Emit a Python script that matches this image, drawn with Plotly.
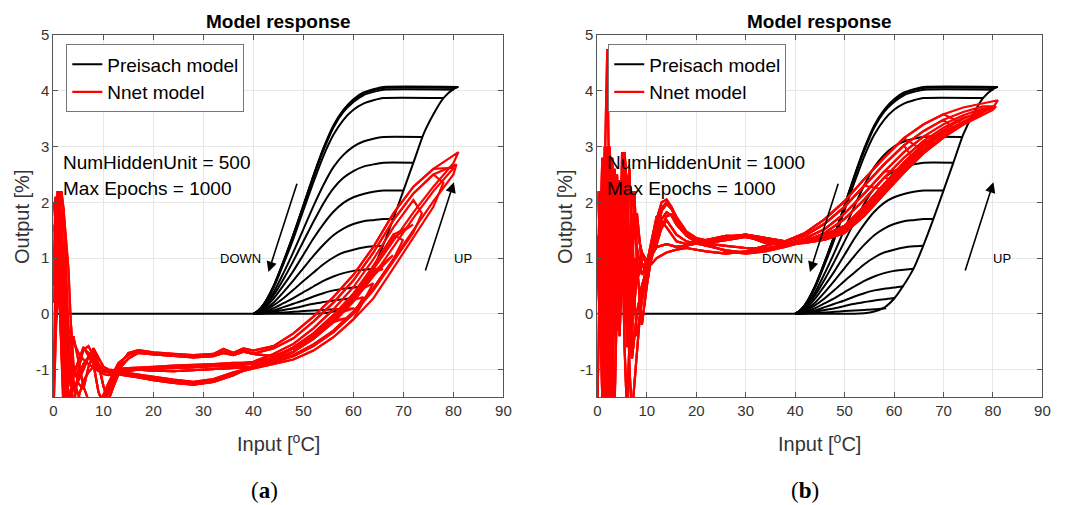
import plotly.graph_objects as go

# ---------------- Preisach model (identical in both panels) ----------------
PREISACH_ASC_X = [0, 52, 54, 56, 58, 60, 62, 64, 66, 68, 70, 72, 74, 76, 78, 80, 81]
PREISACH_ASC_Y = [0, 0, 0.01, 0.04, 0.11, 0.27, 0.52, 0.82, 1.24, 1.71, 2.21, 2.71, 3.22, 3.58, 3.87, 4.03, 4.07]

PREISACH_DESC_X = [40, 41, 42, 44, 46, 48, 50, 52, 54, 56, 58, 60, 62, 64, 66]
PREISACH_TURN_X = [81, 80.6, 80.1, 78, 73.7, 71.9, 69.9, 67.9, 65.9, 64, 62, 60.2, 58.4]
PREISACH_TURN_Y = [4.07, 4.05, 4.02, 3.87, 3.17, 2.71, 2.21, 1.70, 1.22, 0.81, 0.50, 0.29, 0.10]
PREISACH_DESC_Y = [
    [0, 0.06, 0.16, 0.49, 0.94, 1.42, 1.95, 2.48, 2.97, 3.38, 3.66, 3.85, 3.97, 4.03, 4.07],
    [0, 0.06, 0.16, 0.49, 0.93, 1.42, 1.94, 2.47, 2.96, 3.36, 3.65, 3.83, 3.95, 4.01, 4.05],
    [0, 0.06, 0.16, 0.48, 0.92, 1.41, 1.93, 2.45, 2.93, 3.34, 3.62, 3.80, 3.92, 3.98, 4.02],
    [0, 0.06, 0.15, 0.46, 0.89, 1.35, 1.86, 2.36, 2.83, 3.21, 3.48, 3.66, 3.77, 3.83, 3.87],
    [0, 0.05, 0.13, 0.38, 0.73, 1.11, 1.52, 1.93, 2.31, 2.63, 2.85, 3.00, 3.09, 3.14, 3.17],
    [0, 0.04, 0.11, 0.33, 0.62, 0.95, 1.30, 1.65, 1.98, 2.25, 2.44, 2.56, 2.64, 2.68, 2.71],
    [0, 0.03, 0.09, 0.27, 0.51, 0.77, 1.06, 1.35, 1.61, 1.83, 1.99, 2.09, 2.15, 2.19, 2.21],
    [0, 0.03, 0.07, 0.20, 0.39, 0.60, 0.82, 1.04, 1.24, 1.41, 1.53, 1.61, 1.66, 1.68, 1.70],
    [0, 0.02, 0.05, 0.15, 0.28, 0.43, 0.59, 0.74, 0.89, 1.01, 1.10, 1.15, 1.19, 1.21],
    [0, 0.01, 0.03, 0.10, 0.19, 0.28, 0.39, 0.49, 0.59, 0.67, 0.73, 0.77, 0.79],
    [0, 0.01, 0.02, 0.06, 0.12, 0.18, 0.24, 0.31, 0.37, 0.42, 0.45, 0.47],
    [0, 0.004, 0.01, 0.035, 0.07, 0.10, 0.14, 0.18, 0.21, 0.24, 0.26],
    [0, 0.002, 0.004, 0.012, 0.023, 0.035, 0.05, 0.06, 0.07, 0.08],
]

# ---------------- Nnet model, panel (a): NumHiddenUnit = 500 ----------------
RED_A_UP_X = [0, 0.4, 0.8, 1.2, 1.6, 2.0, 2.5, 3.0, 3.5, 4, 5, 6, 7, 8, 9, 10, 11, 12,
              14, 17, 20, 24, 28, 32, 36, 40, 44, 48, 52, 56, 60, 64, 68, 72, 76, 80]
RED_A_UP_Y = [
    [-2.0, 1.0, 2.2, 1.7, 0.5, -0.6, -1.4, -1.9, -2.0, -1.8, -1.5, -1.2, -1.05, -0.95, -0.98, -1.02, -1.05, -1.06,
     -1.08, -1.12, -1.16, -1.21, -1.25, -1.2, -1.08,
     -0.95, -0.86, -0.74, -0.55, -0.3, 0.04, 0.46, 0.98, 1.5, 2.02, 2.5],
    [0.2, 0.8, 1.7, 2.15, 1.5, 0.3, -0.7, -1.5, -1.9, -1.7, -1.0, -0.62, -0.7, -0.85, -0.98, -1.03, -1.05, -1.06,
     -1.1, -1.14, -1.19, -1.24, -1.27, -1.22, -1.1,
     -0.93, -0.82, -0.68, -0.45, -0.15, 0.22, 0.68, 1.2, 1.72, 2.2, 2.62],
    [-1.8, -0.5, 0.6, 1.6, 2.2, 1.9, 0.8, -0.3, -0.35, -0.5, -0.7, -0.82, -0.9, -0.97, -1.03, -1.04, -1.04, -1.02,
     -1.0, -0.99, -0.98, -0.97, -0.96, -0.95, -0.93,
     -0.9, -0.8, -0.62, -0.38, -0.06, 0.32, 0.8, 1.32, 1.82, 2.28, 2.7],
    [1.9, 2.05, 1.2, 0.2, -0.8, -1.5, -1.9, -1.8, -1.4, -1.1, -0.85, -0.65, -0.58, -0.75, -0.95, -1.08, -1.1, -1.08,
     -1.07, -1.1, -1.14, -1.19, -1.23, -1.19, -1.07,
     -0.98, -0.9, -0.82, -0.66, -0.42, -0.1, 0.28, 0.82, 1.38, 1.92, 2.4],
    [0.8, 2.1, 1.9, 2.2, 1.0, -1.0, -1.7, -0.9, -0.2, -0.9, -1.25, -1.35, -0.95, -0.72, -0.9, -1.0, -1.03, -1.04,
     -1.05, -1.09, -1.13, -1.18, -1.22, -1.17, -1.05,
     -0.96, -0.87, -0.76, -0.58, -0.33, 0.0, 0.42, 0.94, 1.46, 1.98, 2.47],
    [-1.2, 0.3, 2.1, 0.6, 1.8, 0.9, -1.0, -1.3, -0.8, -1.0, -1.2, -1.0, -0.78, -0.62, -0.8, -0.95, -1.0, -1.01,
     -0.98, -0.97, -0.95, -0.93, -0.92, -0.9, -0.88,
     -0.88, -0.78, -0.6, -0.35, -0.02, 0.36, 0.84, 1.36, 1.86, 2.32, 2.74],
]
RED_A_DN_X = [80, 76, 72, 68, 64, 60, 56, 52, 48, 44, 40, 38, 36, 34, 32, 28, 24, 20, 17, 15, 13,
              12, 11, 10, 9, 8, 6, 4, 3, 2, 1, 0]
RED_A_DN_Y = [
    [2.8, 2.6, 2.28, 1.8, 1.2, 0.7, 0.3, -0.05, -0.35, -0.58, -0.66, -0.62, -0.7, -0.63, -0.72, -0.74, -0.72,
     -0.69, -0.65, -0.7, -0.95, -1.15, -1.35, -1.55, -1.8, -2.0, -1.7, -1.2, 0.8, 1.9, 0.4, -0.8],
    [2.74, 2.5, 2.16, 1.68, 1.1, 0.6, 0.2, -0.14, -0.44, -0.62, -0.71, -0.66, -0.72, -0.68, -0.75, -0.77, -0.75,
     -0.72, -0.68, -0.74, -0.88, -1.05, -1.25, -1.45, -1.65, -1.9, -2.2, -1.6, -0.9, 0.2, 2.1, 1.0],
    [2.68, 2.4, 2.04, 1.55, 0.98, 0.48, 0.08, -0.26, -0.54, -0.72, -0.86, -0.88, -0.9, -0.92, -0.93, -0.96, -0.97,
     -0.98, -0.99, -1.0, -1.02, -1.1, -1.25, -1.45, -1.6, -1.8, -1.3, -0.4, -1.2, -1.7, 0.8, 1.6],
    [2.62, 2.3, 1.92, 1.42, 0.86, 0.36, -0.04, -0.36, -0.62, -0.76, -0.72, -0.68, -0.74, -0.7, -0.76, -0.78, -0.76,
     -0.73, -0.7, -0.8, -1.0, -1.2, -1.42, -1.62, -1.4, -0.9, -0.6, -1.1, -1.6, -0.5, 1.2, 2.0],
    [2.56, 2.2, 1.8, 1.3, 0.75, 0.25, -0.12, -0.42, -0.68, -0.85, -0.95, -0.96, -0.97, -0.98, -1.0, -1.02, -1.03,
     -1.02, -1.0, -1.02, -1.08, -1.3, -1.55, -1.3, -0.9, -0.65, -0.9, -1.4, -0.6, 0.9, 2.2, 0.5],
]
RED_A_TURN_X = [81, 80.6, 80.1, 78, 73.7, 71.9, 69.9, 67.9, 65.9, 64, 62, 60.2, 58.4]
RED_A_TURN_Y = [2.9, 2.68, 2.62, 2.35, 1.8, 1.6, 1.32, 1.05, 0.8, 0.55, 0.3, 0.1, -0.08]
RED_A_CYCLE_UP = [2, 0, 1, 3, 4, 5, 0, 1, 2, 3, 4, 5, 1]
RED_A_CYCLE_DN = [0, 1, 0, 1, 2, 3, 3, 4, 4, 3, 4, 2, 4]

# ---------------- Nnet model, panel (b): NumHiddenUnit = 1000 ----------------
RED_B_UP_X = [0, 0.5, 1, 1.5, 2, 2.5, 3, 3.5, 4, 4.5, 5, 5.5, 6, 6.5, 7, 7.5, 8,
              9, 10, 11, 12, 13, 14, 15, 16, 18, 20, 23, 26, 30, 34, 38,
              42, 46, 50, 54, 58, 62, 66, 70, 74, 78, 80]
RED_B_UP_Y = [
    [1.3, -0.5, 1.5, 2.6, 4.75, 1.0, -1.8, 0.5, 2.0, 1.0, 2.9, 1.2, -0.6, 0.8, 1.8, 0.3, -0.4,
     0.2, 0.75, 1.25, 1.7, 2.0, 2.05, 1.92, 1.72, 1.45, 1.32, 1.22, 1.12, 1.08, 1.12, 1.2,
     1.3, 1.38, 1.52, 1.85, 2.25, 2.63, 2.97, 3.24, 3.45, 3.62, 3.7],
    [0.5, 2.2, 1.0, -1.6, 0.5, 3.0, 1.5, -0.3, 1.2, 2.2, 0.4, 2.7, 2.4, 0.2, -0.5, 1.0, 0.6,
     0.9, 0.85, 1.1, 1.45, 1.85, 1.97, 1.88, 1.7, 1.46, 1.33, 1.28, 1.32, 1.38, 1.3, 1.24,
     1.27, 1.33, 1.45, 1.76, 2.15, 2.53, 2.88, 3.16, 3.39, 3.58, 3.66],
    [-1.8, 1.0, 2.8, 1.5, -0.2, 1.8, 2.3, 0.8, -0.2, 1.5, 2.0, -0.2, 1.8, 2.6, 1.0, 0.2, 0.7,
     1.1, 0.95, 1.15, 1.35, 1.7, 1.82, 1.76, 1.6, 1.4, 1.28, 1.33, 1.4, 1.4, 1.27, 1.22,
     1.32, 1.42, 1.58, 1.93, 2.33, 2.72, 3.05, 3.3, 3.5, 3.65, 3.72],
    [1.0, 0.2, -1.5, 0.6, 2.6, 1.2, -0.8, -1.6, 0.4, 2.4, 1.6, -0.6, -1.8, -0.4, 1.2, 2.2, 0.9,
     -0.2, 0.5, 1.05, 1.25, 1.55, 1.75, 1.78, 1.65, 1.42, 1.3, 1.25, 1.22, 1.18, 1.18, 1.22,
     1.29, 1.36, 1.5, 1.82, 2.2, 2.58, 2.92, 3.2, 3.42, 3.6, 3.68],
    [2.2, 1.4, 0.3, 1.9, 3.0, 2.2, 0.6, 1.6, 2.5, 0.9, 1.4, 2.6, 1.0, 0.1, 0.9, 1.6, 1.2,
     0.7, 0.9, 1.2, 1.55, 1.9, 2.0, 1.9, 1.74, 1.48, 1.36, 1.3, 1.36, 1.42, 1.34, 1.26,
     1.3, 1.4, 1.56, 1.9, 2.3, 2.68, 3.01, 3.27, 3.47, 3.63, 3.71],
]
RED_B_DN_X = [80, 78, 74, 70, 66, 62, 58, 54, 50, 46, 42,
              38, 34, 30, 26, 22, 18, 16, 14, 12, 11, 10, 9, 8, 7,
              6.5, 6, 5.5, 5, 4.5, 4, 3.5, 3, 2.5, 2, 1.5, 1, 0.5, 0]
RED_B_DN_Y = [
    [3.82, 3.78, 3.7, 3.58, 3.4, 3.15, 2.8, 2.42, 2.02, 1.7, 1.45,
     1.3, 1.22, 1.12, 1.08, 1.12, 1.18, 1.15, 1.1, 1.0, 0.9, 0.85, 1.1, 1.5, 2.2,
     1.2, 0.0, 1.0, 2.4, 1.6, 0.2, 1.4, 2.2, 0.0, -1.6, 0.8, 2.0, 0.6, 1.2],
    [3.76, 3.72, 3.62, 3.48, 3.28, 3.02, 2.68, 2.3, 1.92, 1.62, 1.4,
     1.3, 1.36, 1.42, 1.38, 1.3, 1.22, 1.2, 1.25, 1.2, 1.05, 0.8, 0.5, 0.0, -0.8,
     0.5, 2.2, 2.9, 1.8, 0.5, -0.3, 0.9, 2.8, 1.5, 0.3, -1.2, 0.4, 1.6, 1.0],
    [3.72, 3.68, 3.56, 3.4, 3.18, 2.9, 2.55, 2.16, 1.8, 1.52, 1.35,
     1.25, 1.3, 1.38, 1.4, 1.32, 1.25, 1.3, 1.55, 1.75, 1.35, 0.9, 0.4, -0.6, -1.8,
     -1.0, 1.0, 2.6, 2.0, 0.6, 1.8, 2.5, 0.0, -1.8, 0.8, 3.0, 1.2, 0.0, 0.8],
    [3.7, 3.65, 3.52, 3.34, 3.1, 2.8, 2.44, 2.05, 1.7, 1.45, 1.3,
     1.22, 1.16, 1.1, 1.14, 1.22, 1.3, 1.42, 1.68, 1.4, 1.0, 0.7, 0.9, 1.8, 1.2,
     0.2, 1.5, 2.2, 0.8, -0.4, 1.2, 2.6, 1.6, 0.6, 2.2, 1.4, -0.6, 1.0, 1.4],
]
RED_B_TURN_X = [81, 80.6, 80.1, 78, 73.7, 71.9, 69.9, 67.9, 65.9, 64, 62, 60.2, 58.4]
RED_B_TURN_Y = [3.83, 3.72, 3.7, 3.6, 3.42, 3.33, 3.2, 3.07, 2.93, 2.76, 2.58, 2.4, 2.22]
RED_B_CYCLE_UP = [0, 1, 2, 3, 4, 1, 2, 3, 4, 0, 1, 2, 3]
RED_B_CYCLE_DN = [0, 1, 2, 3, 0, 1, 2, 3, 0, 1, 2, 3, 1]

X_TICKS = [0, 10, 20, 30, 40, 50, 60, 70, 80, 90]
Y_TICKS = [-1, 0, 1, 2, 3, 4, 5]
Y_TICK_TEXT = ["-1", "0", "1", "2", "3", "4", "5"]

for ys in RED_A_UP_Y:
    assert len(ys) == len(RED_A_UP_X), len(ys)
for ys in RED_A_DN_Y:
    assert len(ys) == len(RED_A_DN_X), len(ys)
for ys in RED_B_UP_Y:
    assert len(ys) == len(RED_B_UP_X), len(ys)
for ys in RED_B_DN_Y:
    assert len(ys) == len(RED_B_DN_X), len(ys)


def preisach_xy():
    xs, ys = list(PREISACH_ASC_X), list(PREISACH_ASC_Y)
    xs.append(None); ys.append(None)
    for tx, ty, dy in zip(PREISACH_TURN_X, PREISACH_TURN_Y, PREISACH_DESC_Y):
        pts = list(zip(PREISACH_DESC_X, dy))
        xs.append(tx); ys.append(ty)
        for x, y in reversed(pts):
            xs.append(x); ys.append(y)
        xs.append(None); ys.append(None)
    return xs, ys


def nnet_xy(up_x, up_ys, dn_x, dn_ys, turn_x, turn_y, cyc_up, cyc_dn):
    xs, ys = [], []
    for k, (tx, ty) in enumerate(zip(turn_x, turn_y)):
        u = up_ys[cyc_up[k]]
        d = dn_ys[cyc_dn[k]]
        for x, y in zip(up_x, u):
            if x < tx - 0.3:
                xs.append(x); ys.append(y)
        xs.append(tx); ys.append(ty)
        for x, y in zip(dn_x, d):
            if x < tx - 1.5:
                xs.append(x); ys.append(y)
        xs.append(None); ys.append(None)
    return xs, ys


FONT = "Liberation Sans, Arial, Helvetica, sans-serif"
fig = go.Figure()

px_, py_ = preisach_xy()
ra_x, ra_y = nnet_xy(RED_A_UP_X, RED_A_UP_Y, RED_A_DN_X, RED_A_DN_Y, RED_A_TURN_X, RED_A_TURN_Y,
                     RED_A_CYCLE_UP, RED_A_CYCLE_DN)
rb_x, rb_y = nnet_xy(RED_B_UP_X, RED_B_UP_Y, RED_B_DN_X, RED_B_DN_Y, RED_B_TURN_X, RED_B_TURN_Y,
                     RED_B_CYCLE_UP, RED_B_CYCLE_DN)

for xr, yr, lg, rx, ry in [("x", "y", "legend", ra_x, ra_y), ("x2", "y2", "legend2", rb_x, rb_y)]:
    fig.add_trace(go.Scatter(x=px_, y=py_, mode="lines", name="Preisach model",
                             line=dict(color="black", width=2, shape="spline", smoothing=0.6),
                             xaxis=xr, yaxis=yr, legend=lg))
    fig.add_trace(go.Scatter(x=rx, y=ry, mode="lines", name="Nnet model",
                             line=dict(color="#ff0000", width=2.2),
                             xaxis=xr, yaxis=yr, legend=lg))

W, H = 1084, 505
y_dom = [1 - 395.5 / H, 1 - 26.5 / H]


def xaxis(dom, anchor):
    return dict(domain=dom, anchor=anchor, range=[0, 90], tickvals=X_TICKS,
                showgrid=True, gridcolor="#e6e6e6", gridwidth=1, zeroline=False,
                showline=True, linecolor="#555", linewidth=1, mirror="ticks",
                ticks="inside", ticklen=5, tickcolor="#555",
                tickfont=dict(family=FONT, size=15, color="#333"))


def yaxis(anchor):
    return dict(domain=y_dom, anchor=anchor, range=[-1.5, 5], tickvals=Y_TICKS, ticktext=Y_TICK_TEXT,
                showgrid=True, gridcolor="#e6e6e6", gridwidth=1, zeroline=False,
                showline=True, linecolor="#555", linewidth=1, mirror="ticks",
                ticks="inside", ticklen=5, tickcolor="#555",
                tickfont=dict(family=FONT, size=15, color="#333"))


legend_common = dict(xanchor="left", yanchor="top", bgcolor="white", bordercolor="#777",
                     borderwidth=1, font=dict(family=FONT, size=19, color="black"),
                     tracegroupgap=0)

fig.update_layout(
    width=W, height=H, margin=dict(l=0, r=0, t=0, b=0),
    paper_bgcolor="white", plot_bgcolor="white", showlegend=True,
    xaxis=xaxis([50 / W, 505 / W], "y"), yaxis=yaxis("x"),
    xaxis2=xaxis([600 / W, 1050 / W], "y2"), yaxis2=yaxis("x2"),
    legend=dict(x=63 / W, y=1 - 36 / H, **legend_common),
    legend2=dict(x=611 / W, y=1 - 36 / H, **legend_common),
)

ann = []
for cx, xr, yr, hidden, cap, lbl_x in [
    (278, "x", "y", "500", "(<b>a</b>)", 18),
    (825, "x2", "y2", "1000", "(<b>b</b>)", 568),
]:
    ann.append(dict(text="<b>Model response</b>", x=cx / W, y=1 - 12.5 / H, xref="paper", yref="paper",
                    xanchor="center", yanchor="middle",
                    showarrow=False, font=dict(family=FONT, size=19, color="black")))
    ann.append(dict(text="Input [<sup>o</sup>C]", x=cx / W, y=1 - 441 / H, xref="paper", yref="paper",
                    xanchor="center", yanchor="middle",
                    showarrow=False, font=dict(family=FONT, size=20, color="#333")))
    ann.append(dict(text="Output [%]", x=lbl_x / W, y=1 - 211 / H, xref="paper", yref="paper",
                    xanchor="center", yanchor="middle",
                    textangle=-90, showarrow=False, font=dict(family=FONT, size=20, color="#333")))
    ann.append(dict(text=cap, x=(cx - 15) / W, y=1 - 490 / H, xref="paper", yref="paper",
                    xanchor="center", yanchor="middle",
                    showarrow=False, font=dict(family="Liberation Serif, DejaVu Serif, serif", size=23, color="black")))
    ann.append(dict(text="NumHiddenUnit = " + hidden, x=1.6, y=2.71, xref=xr, yref=yr, xanchor="left",
                    yanchor="middle", showarrow=False, font=dict(family=FONT, size=19, color="black")))
    ann.append(dict(text="Max Epochs = 1000", x=1.6, y=2.25, xref=xr, yref=yr, xanchor="left",
                    yanchor="middle", showarrow=False, font=dict(family=FONT, size=19, color="black")))
    ann.append(dict(text="", x=43.0, y=0.75, ax=48.8, ay=2.36, xref=xr, yref=yr, axref=xr, ayref=yr,
                    showarrow=True, arrowhead=2, arrowsize=1.3, arrowwidth=1.6, arrowcolor="black"))
    ann.append(dict(text="", x=80.1, y=2.36, ax=74.3, ay=0.75, xref=xr, yref=yr, axref=xr, ayref=yr,
                    showarrow=True, arrowhead=2, arrowsize=1.3, arrowwidth=1.6, arrowcolor="black"))
    ann.append(dict(text="DOWN", x=37.5, y=1.0, xref=xr, yref=yr, showarrow=False,
                    xanchor="center", yanchor="middle",
                    font=dict(family=FONT, size=13, color="black")))
    ann.append(dict(text="UP", x=81.9, y=1.0, xref=xr, yref=yr, showarrow=False,
                    xanchor="center", yanchor="middle",
                    font=dict(family=FONT, size=13, color="black")))

fig.update_layout(annotations=ann)
fig.write_html("out.html")
